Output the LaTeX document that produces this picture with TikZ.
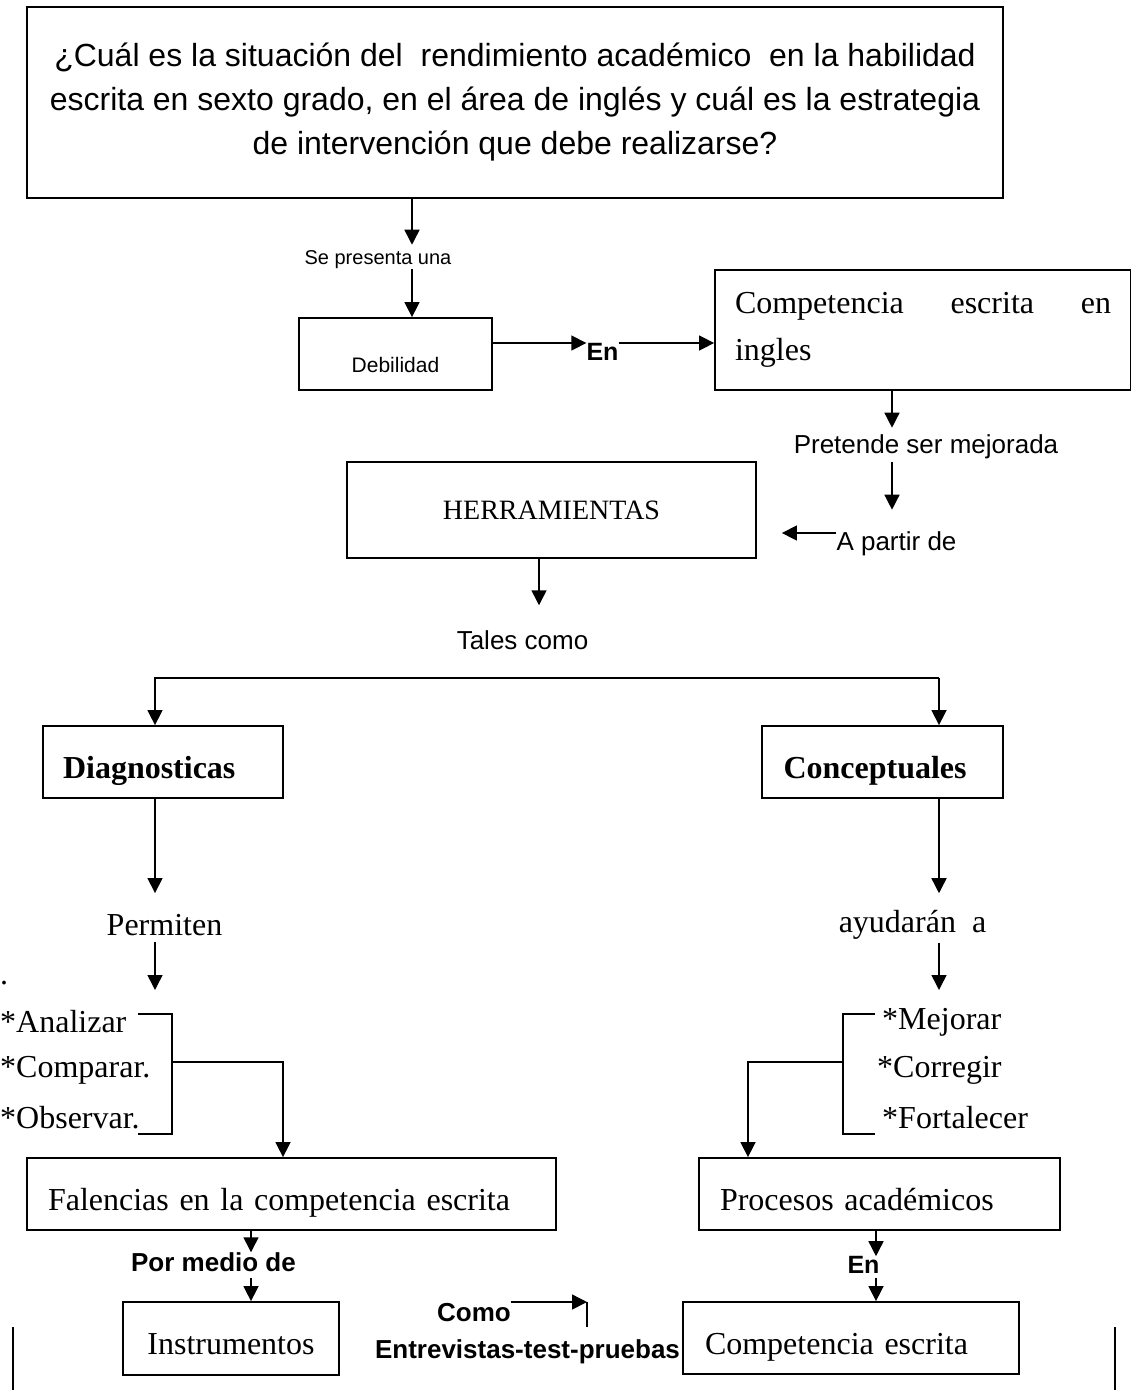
\documentclass[tikz,border=0pt]{standalone}
\usepackage{fontspec}
\setmainfont{Liberation Serif}
\setsansfont{Liberation Sans}
\usetikzlibrary{arrows.meta}

\begin{document}
\begin{tikzpicture}[x=1pt,y=-1pt,
  box/.style 2 args={draw,line width=1.8pt,minimum width=#1,minimum height=#2,inner sep=0pt},
  padded/.style 2 args={align=left,text width=#1,inner xsep=#2},
  lowtext/.style={text height=#1,text depth=0pt},
  rm/.style={font=\fontsize{32}{47}\selectfont},
  rmb/.style={font=\bfseries\fontsize{32}{38}\selectfont},
  ss/.style={font=\sffamily\fontsize{#1}{#1}\selectfont,inner sep=0pt},
  ssb/.style={font=\sffamily\bfseries\fontsize{#1}{#1}\selectfont,inner sep=0pt},
  listitem/.style={font=\fontsize{32}{38}\selectfont,anchor=west,inner sep=0pt},
  arr/.style={line width=1.5pt,-{Triangle[length=15pt,width=15pt]}},
  conn/.style={line width=1.5pt}]

  \useasboundingbox (0,0) rectangle (1130,1395);

  % boxes
  \node[box={976pt}{191pt},align=center,font=\sffamily\fontsize{32}{44}\selectfont] (q) at (515,102.5)
    {¿Cuál es la situación del\ \ rendimiento académico\ \ en la habilidad\\
     escrita en sexto grado, en el área de inglés y cuál es la estrategia\\
     de intervención que debe realizarse?};
  \node[box={193pt}{72pt},ss=21,lowtext=37pt] (deb) at (395.5,354) {Debilidad};
  \node[box={416pt}{120pt},rm,padded={376pt}{20pt}] (comp) at (923,330) {Competencia\hfill escrita\hfill en\\ingles};
  \node[box={409pt}{96pt},font=\fontsize{28}{34}\selectfont] (herr) at (551.5,510) {HERRAMIENTAS};
  \node[box={240pt}{72pt},rmb,padded={200pt}{20pt},lowtext=32pt] (diag) at (163,762) {Diagnosticas};
  \node[box={241pt}{72pt},rmb,padded={198pt}{21.5pt},lowtext=32pt] (conc) at (882.5,762) {Conceptuales};
  \node[box={529pt}{72pt},rm,padded={487pt}{21pt},lowtext=32pt] (fal) at (291.5,1194) {Falencias en la competencia escrita};
  \node[box={361pt}{72pt},rm,padded={319pt}{21pt},lowtext=32pt] (proc) at (879.5,1194) {Procesos académicos};
  \node[box={216pt}{73pt},rm,lowtext=32pt] (inst) at (231,1338.5) {Instrumentos};
  \node[box={336pt}{72pt},rm,padded={292pt}{22pt},lowtext=32pt] (compE) at (851,1338) {Competencia escrita};

  % labels on the arrows
  \node[ss=20] (sepres) at (378,260) {Se presenta una};
  \node[ssb=25] (en1) at (602.5,352) {En};
  \node[ss=26] (pret) at (926,447) {Pretende ser mejorada};
  \node[ss=26] (apartir) at (896.5,544) {A partir de};
  \node[ss=26] (tales) at (522.5,640) {Tales como};
  \node[rm,inner sep=0pt] (perm) at (164.5,925) {Permiten};
  \node[rm,inner sep=0pt] (ayud) at (912.5,925) {ayudarán\ \ a};
  \node[ssb=26] (por) at (213.5,1262) {Por medio de};
  \node[ssb=25] (en2) at (863.5,1265) {En};
  \node[ssb=26] (como) at (474,1313) {Como};
  \node[ssb=26] (entr) at (527.5,1352) {Entrevistas-test-pruebas};

  % lists
  \node[listitem] (anal) at (0,1022) {*Analizar};
  \node[listitem] (compa) at (0,1070) {*Comparar.};
  \node[listitem] (obse) at (0,1118) {*Observar.};
  \node[listitem] (mejo) at (882,1022) {*Mejorar};
  \node[listitem] (corr) at (877,1070) {*Corregir};
  \node[listitem] (fort) at (882,1118) {*Fortalecer};
  \node[listitem,anchor=base west] (punto) at (0,984) {.};

  \coordinate (c1) at (412,0);
  \coordinate (c2) at (892,0);
  \coordinate (c3) at (539,0);
  \coordinate (c4) at (251,0);
  \coordinate (c5) at (876,0);
  \coordinate (colL) at (155,0);
  \coordinate (colR) at (939,0);
  \coordinate (r1) at (0,343);
  \coordinate (r2) at (0,533);
  \coordinate (brL) at (155,678);
  \coordinate (brR) at (939,678);
  \coordinate (pL) at (155,990);
  \coordinate (pR) at (939,990);
  \coordinate (lbrk) at (172,1062);
  \coordinate (rbrk) at (843,1062);
  \coordinate (lcol) at (283,0);
  \coordinate (rcol) at (748,0);
  \coordinate (tick) at (587,1302);

  \draw[arr,shorten >=6pt] (q.south -| c1) -- (sepres.north -| c1);
  \draw[arr] (sepres.south -| c1) -- (deb.north -| c1);
  \draw[arr] (deb.east |- r1) -- (en1.west |- r1);
  \draw[arr] (en1.east |- r1) -- (comp.west |- r1);
  \draw[arr,shorten >=7pt] (comp.south -| c2) -- (pret.north -| c2);
  \draw[arr,shorten <=3pt,shorten >=22pt] (pret.south -| c2) -- (apartir.north -| c2);
  \draw[arr,shorten >=25pt] (apartir.west |- r2) -- (herr.east |- r2);
  \draw[arr,shorten >=25pt] (herr.south -| c3) -- (tales.north -| c3);
  \draw[arr] (brR) -- (brL) -- (diag.north -| brL);
  \draw[arr] (brR) -- (conc.north -| brR);
  \draw[arr,shorten >=21pt] (diag.south -| colL) -- (perm.north -| colL);
  \draw[arr,shorten >=17pt] (conc.south -| colR) -- (ayud.north -| colR);
  \draw[arr,shorten <=6pt] (perm.south -| colL) -- (pL);
  \draw[arr,shorten <=3pt] (ayud.south -| colR) -- (pR);
  \draw[conn] (138,1014) -| (lbrk) |- (138,1134);
  \draw[arr] (lbrk) -| (fal.north -| lcol);
  \draw[conn] (875,1014) -| (rbrk) |- (875,1134);
  \draw[arr] (rbrk) -| (proc.north -| rcol);
  \draw[arr] (fal.south -| c4) -- (por.north -| c4);
  \draw[arr,shorten <=6pt] (por.south -| c4) -- (inst.north -| c4);
  \draw[arr] (proc.south -| c5) -- (en2.north -| c5);
  \draw[arr,shorten <=4pt] (en2.south -| c5) -- (compE.north -| c5);
  \draw[arr] (como.east |- tick) -- (tick);
  \draw[conn] (tick) -- ++(0,25);
  \draw[conn] (13,1327) -- (13,1390);
  \draw[conn] (1115,1327) -- (1115,1390);
\end{tikzpicture}
\end{document}
